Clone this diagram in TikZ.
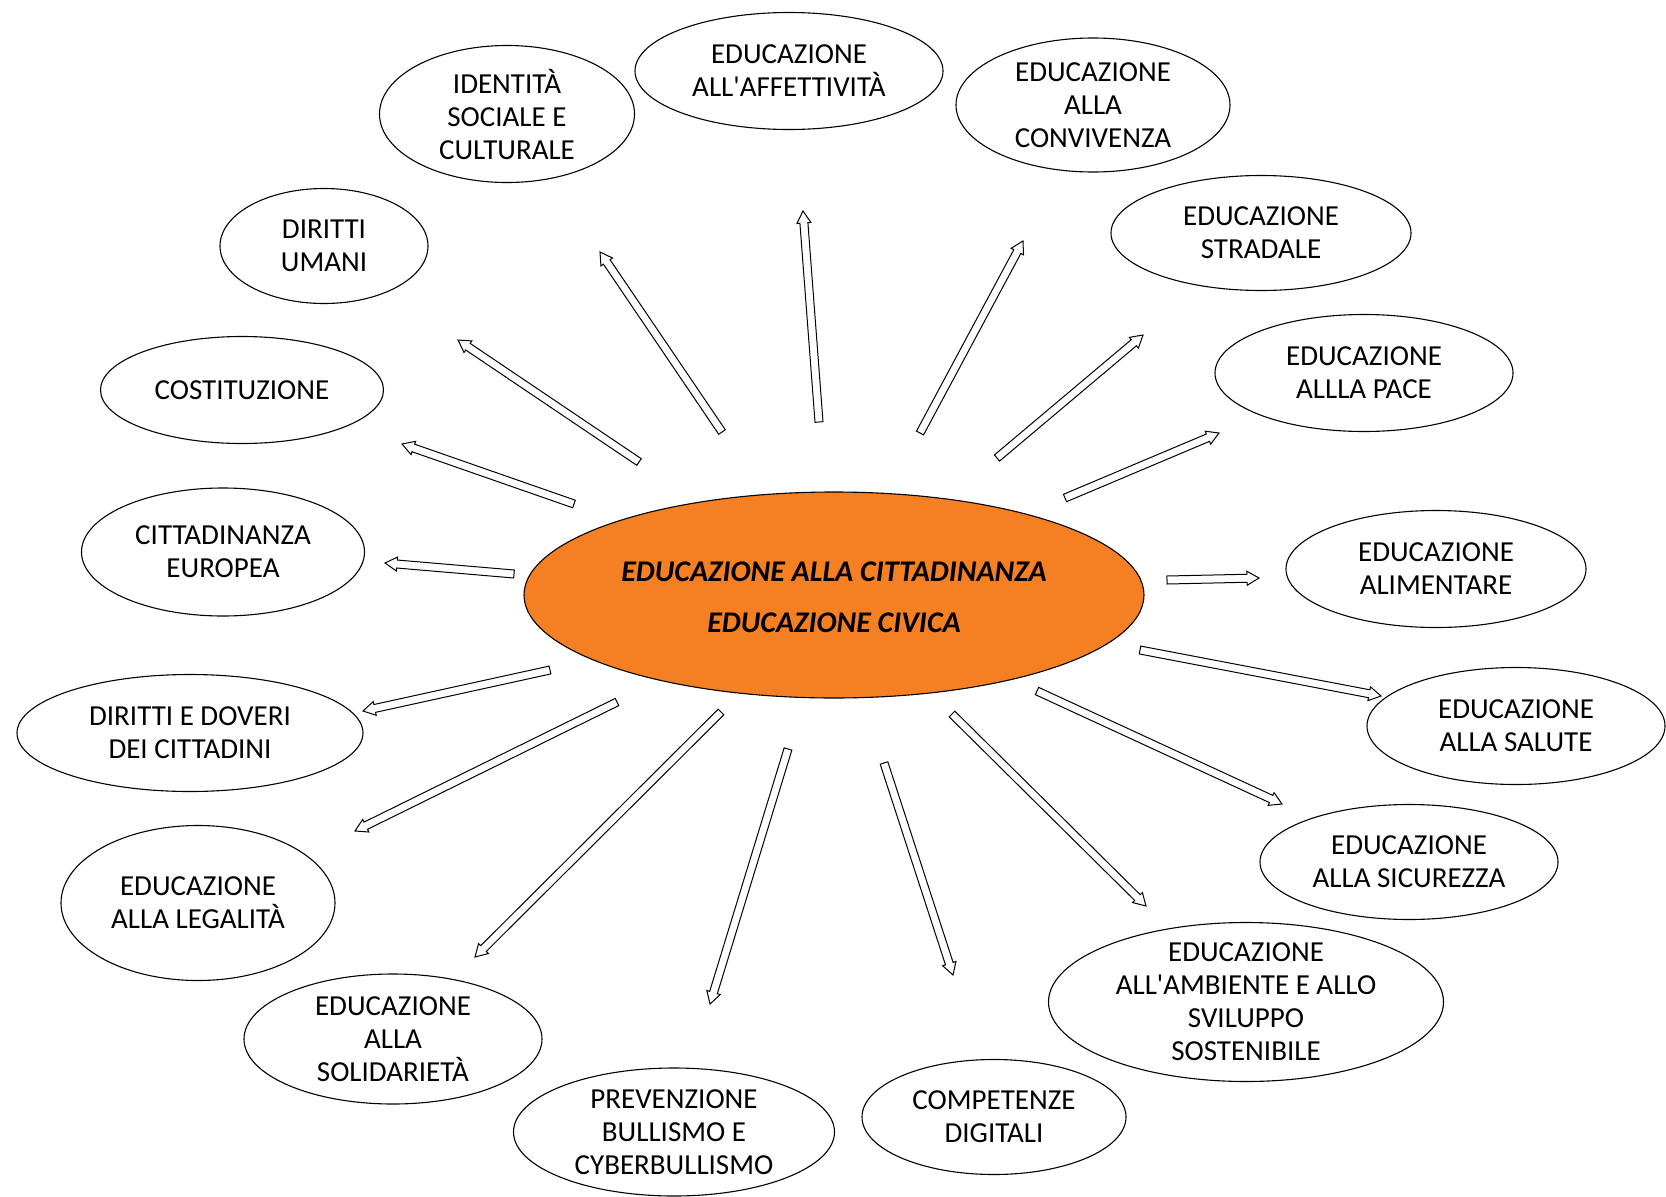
\documentclass[tikz,border=0pt]{standalone}
\usepackage{fontspec}
\setmainfont{Carlito}
\usetikzlibrary{shapes.geometric,calc}
\definecolor{civorange}{RGB}{245,128,36}
\tikzset{
  bub/.style={draw=black, line width=1.1pt, ellipse, inner sep=0pt},
  btxt/.style={align=center, font=\fontsize{29}{33}\selectfont, inner sep=0pt, text=black},
  hollow/.style={draw=black, line width=1pt, fill=white, line join=miter},
  maintxt/.style={align=center, font=\fontsize{30}{51}\selectfont\bfseries\itshape, inner sep=0pt},
}
\newcommand{\bubble}[6]{%
  \node[bub, minimum width=#4pt, minimum height=#5pt] (#1) at (#2,#3) {};
  \node[btxt] (#1-t) at (#1) {#6};}
\newcommand{\harrow}[2]{%
  \coordinate (hc) at ($(#2)!12pt!(#1)$);
  \draw[hollow] ($(#1)!4pt!90:(#2)$) -- ($(hc)!4pt!90:(#2)$) -- ($(hc)!7pt!90:(#2)$) -- (#2)
    -- ($(hc)!7pt!-90:(#2)$) -- ($(hc)!4pt!-90:(#2)$) -- ($(#1)!4pt!-90:(#2)$) -- cycle;}
\begin{document}
\begin{tikzpicture}[x=1pt,y=-1pt]
\useasboundingbox (0,0) rectangle (1666,1197);
\fill[white] (0,0) rectangle (1666,1197);

% central node
\node[bub, fill=civorange, minimum width=620pt, minimum height=206pt] (main) at (834,595) {};
\node[maintxt] (main-t) at (834,597) {EDUCAZIONE ALLA CITTADINANZA\\EDUCAZIONE CIVICA};

% satellites
\bubble{aff}{789}{71}{308}{117}{EDUCAZIONE\\ALL\textquotesingle AFFETTIVITÀ}
\bubble{ide}{507}{114}{255}{137}{IDENTITÀ\\SOCIALE E\\CULTURALE}
\bubble{conv}{1093}{105}{274}{134}{EDUCAZIONE\\ALLA\\CONVIVENZA}
\bubble{du}{324}{246}{208}{115}{DIRITTI\\UMANI}
\bubble{str}{1261}{233}{300}{115}{EDUCAZIONE\\STRADALE}
\bubble{cost}{242}{390}{283}{107}{COSTITUZIONE}
\bubble{pace}{1364}{373}{298}{117}{EDUCAZIONE\\ALLLA PACE}
\bubble{ce}{223}{552}{283}{128}{CITTADINANZA\\EUROPEA}
\bubble{alim}{1436}{569}{300}{117}{EDUCAZIONE\\ALIMENTARE}
\bubble{dd}{190}{733}{346}{117}{DIRITTI E DOVERI\\DEI CITTADINI}
\bubble{sal}{1516}{726}{298}{117}{EDUCAZIONE\\ALLA SALUTE}
\bubble{leg}{198}{903}{274}{155}{EDUCAZIONE\\ALLA LEGALITÀ}
\bubble{sic}{1409}{862}{298}{115}{EDUCAZIONE\\ALLA SICUREZZA}
\bubble{sol}{393}{1039}{298}{130}{EDUCAZIONE\\ALLA\\SOLIDARIETÀ}
\bubble{amb}{1246}{1002}{395}{159}{EDUCAZIONE\\ALL\textquotesingle AMBIENTE E ALLO\\SVILUPPO\\SOSTENIBILE}
\bubble{prev}{674}{1132}{321}{128}{PREVENZIONE\\BULLISMO E\\CYBERBULLISMO}
\bubble{comp}{994}{1117}{264}{115}{COMPETENZE\\DIGITALI}

% arrow end points
\coordinate (a1) at (819,422);   \coordinate (a2) at (803,211);
\coordinate (b1) at (722,432);   \coordinate (b2) at (600,252);
\coordinate (c1) at (920,433);   \coordinate (c2) at (1023,241);
\coordinate (d1) at (639,462);   \coordinate (d2) at (458,340);
\coordinate (e1) at (997,458);   \coordinate (e2) at (1143,335);
\coordinate (f1) at (574,504);   \coordinate (f2) at (402,444);
\coordinate (g1) at (1065,498);  \coordinate (g2) at (1219,433);
\coordinate (h1) at (514,574);   \coordinate (h2) at (385,563);
\coordinate (i1) at (1167,580);  \coordinate (i2) at (1259,578);
\coordinate (j1) at (550,670);   \coordinate (j2) at (363,711);
\coordinate (k1) at (1140,650);  \coordinate (k2) at (1381,696);
\coordinate (l1) at (617,702);   \coordinate (l2) at (355,831);
\coordinate (m1) at (1037,691);  \coordinate (m2) at (1282,804);
\coordinate (n1) at (721,712);   \coordinate (n2) at (475,957);
\coordinate (o1) at (952,714);   \coordinate (o2) at (1146,906);
\coordinate (p1) at (788,749);   \coordinate (p2) at (710,1004);
\coordinate (q1) at (884,763);   \coordinate (q2) at (953,975);

\harrow{a1}{a2}
\harrow{b1}{b2}
\harrow{c1}{c2}
\harrow{d1}{d2}
\harrow{e1}{e2}
\harrow{f1}{f2}
\harrow{g1}{g2}
\harrow{h1}{h2}
\harrow{i1}{i2}
\harrow{j1}{j2}
\harrow{k1}{k2}
\harrow{l1}{l2}
\harrow{m1}{m2}
\harrow{n1}{n2}
\harrow{o1}{o2}
\harrow{p1}{p2}
\harrow{q1}{q2}
\end{tikzpicture}
\end{document}
